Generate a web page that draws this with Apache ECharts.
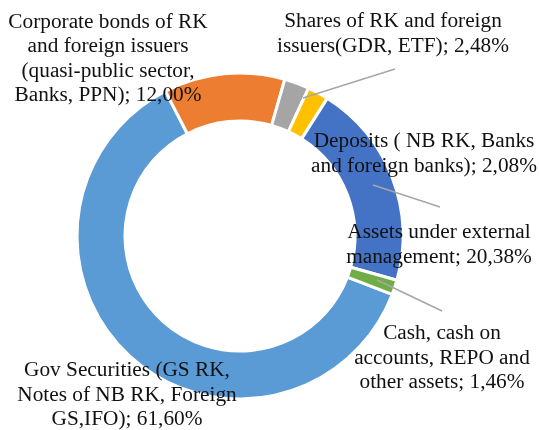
<!DOCTYPE html>
<html>
<head>
<meta charset="utf-8">
<script src="https://cdn.jsdelivr.net/npm/echarts@6/dist/echarts.min.js"></script>
<style>
  html, body { margin: 0; padding: 0; background: #fff; }
  #chart { width: 539px; height: 430px; }
</style>
</head>
<body>
<div id="chart"></div>
<script>
// portfolio structure, %
const categories = [
  "Gov Securities (GS RK,\nNotes of NB RK, Foreign\nGS,IFO)",
  "Corporate bonds of RK\nand foreign issuers\n(quasi-public sector,\nBanks, PPN)",
  "Shares of RK and foreign\nissuers(GDR, ETF)",
  "Deposits ( NB RK, Banks\nand foreign banks)",
  "Assets under external\nmanagement",
  "Cash, cash on\naccounts, REPO and\nother assets"
];
const shares = [61.60, 12.00, 2.48, 2.08, 20.38, 1.46];
const colors = ["#5B9BD5", "#ED7D31", "#A5A5A5", "#FFC000", "#4472C4", "#70AD47"];

// label anchors (centre of text block) and leader lines
const labelPos = [
  [127, 395], [108, 59], [393, 34], [424, 154], [439, 245], [442, 358]
];
const leaders = [
  [[303, 98], [395, 69]],
  [[373, 185], [440, 207]],
  [[377, 280], [442, 311]]
];

var chart = echarts.init(document.getElementById("chart"));
var option = {
  backgroundColor: "#fff",
  animation: false,
  textStyle: { fontFamily: "Liberation Serif, Times New Roman, serif" },
  graphic: leaders.map(function (pts) {
    return {
      type: "polyline",
      z: 100,
      shape: { points: pts },
      style: { stroke: "#A6A6A6", lineWidth: 1.5, fill: null }
    };
  }),
  series: [
    {
      type: "pie",
      center: [240, 236],
      radius: [115, 163],
      startAngle: -21,
      clockwise: true,
      avoidLabelOverlap: false,
      itemStyle: { borderColor: "#fff", borderWidth: 3 },
      label: {
        show: true,
        position: "outside",
        color: "#111",
        fontSize: 21.3,
        lineHeight: 24.5,
        fontFamily: "Liberation Serif",
        formatter: function (p) {
          return p.name + "; " + p.value.toFixed(2).replace(".", ",") + "%";
        }
      },
      labelLine: { show: false },
      labelLayout: function (params) {
        var i = params.dataIndex;
        return {
          x: labelPos[i][0],
          y: labelPos[i][1],
          align: "center",
          verticalAlign: "middle"
        };
      },
      data: categories.map(function (c, i) {
        return {
          name: c,
          value: shares[i],
          itemStyle: { color: colors[i] }
        };
      })
    }
  ]
};
option && chart.setOption(option);
</script>
</body>
</html>
